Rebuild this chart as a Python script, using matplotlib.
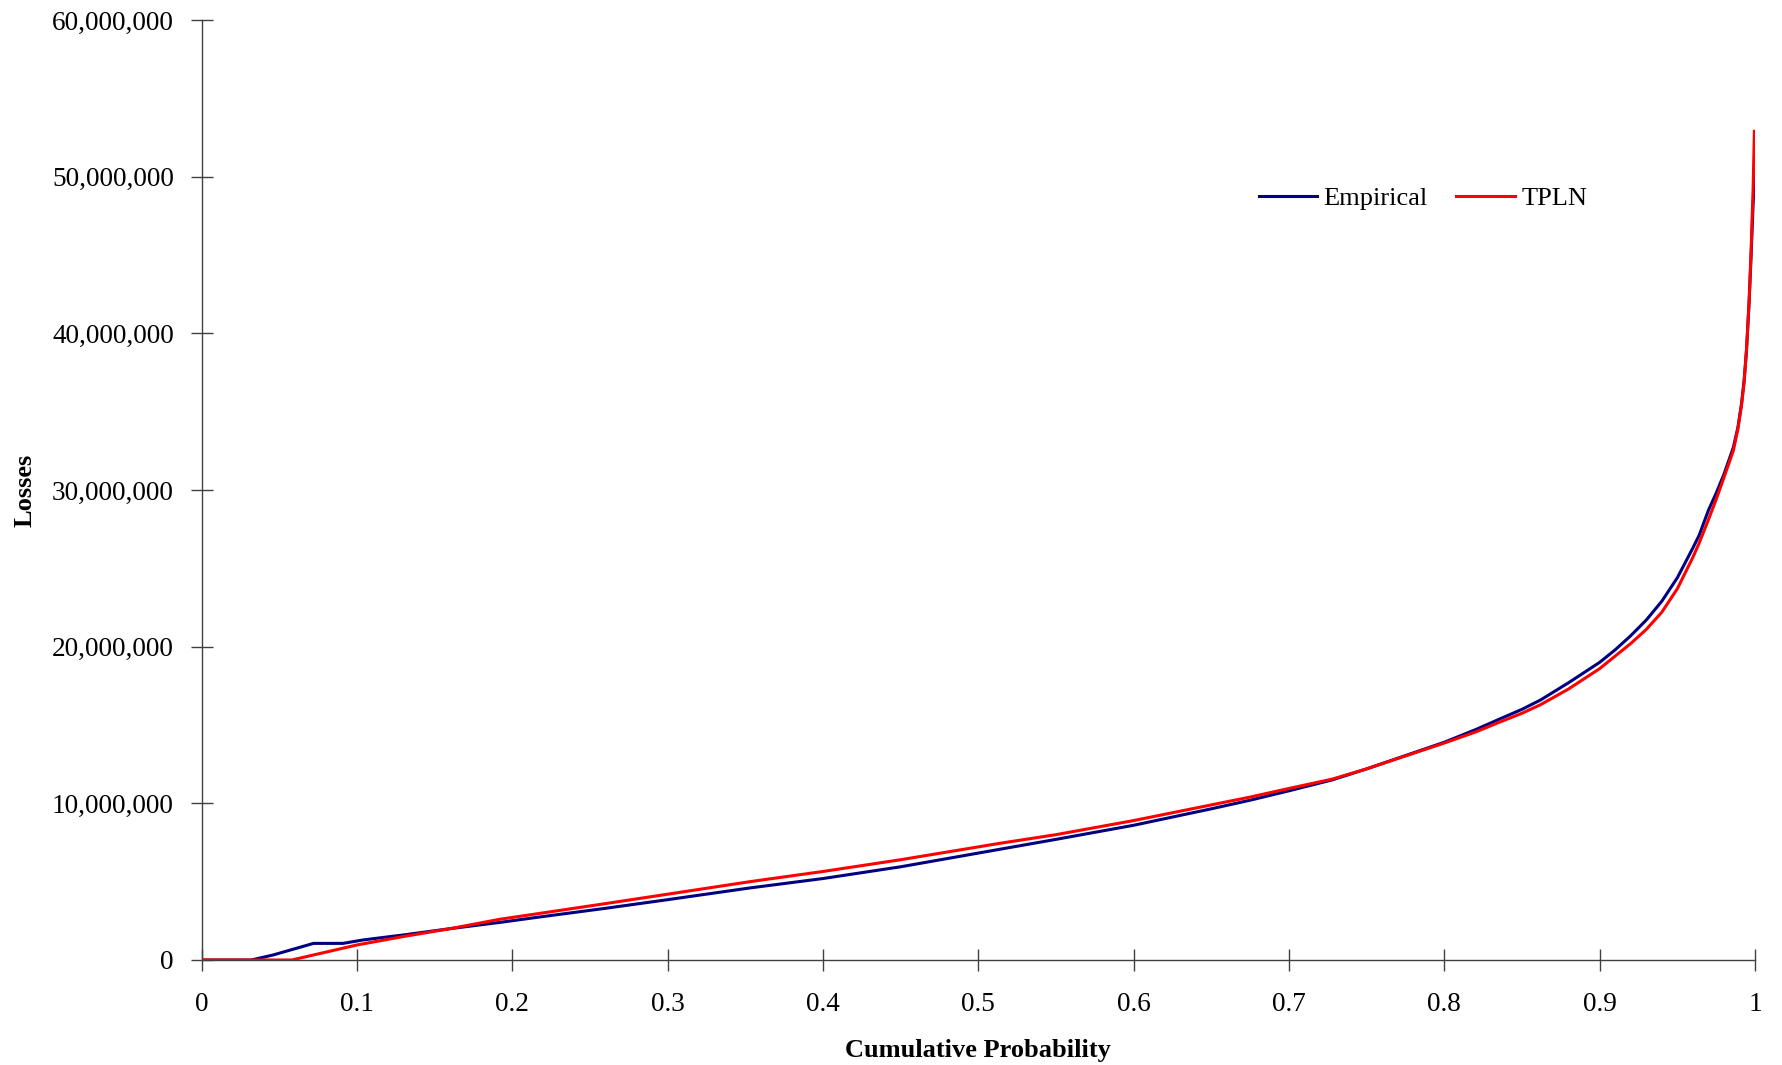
import matplotlib
matplotlib.use("Agg")
import matplotlib.pyplot as plt
from matplotlib.ticker import FuncFormatter, MultipleLocator

# Cumulative probability / losses (millions)
emp_p = [0, 0.032, 0.046, 0.072, 0.091, 0.104, 0.13, 0.16, 0.192, 0.218, 0.26, 0.3,
         0.353, 0.4, 0.45, 0.514, 0.55, 0.6, 0.65, 0.675, 0.7, 0.728, 0.75, 0.8,
         0.82, 0.836, 0.85, 0.862, 0.88, 0.9, 0.91, 0.92, 0.93, 0.94, 0.95, 0.96,
         0.964, 0.97, 0.975, 0.98, 0.986, 0.989, 0.9913, 0.993, 0.9945, 0.9962,
         0.9975, 0.9988, 1.0]
emp_loss_m = [0, 0, 0.32, 1.06, 1.06, 1.28, 1.6, 2.0, 2.4, 2.75, 3.3, 3.85,
              4.6, 5.2, 5.95, 7.07, 7.7, 8.6, 9.65, 10.2, 10.8, 11.5, 12.2, 13.9,
              14.7, 15.4, 16.0, 16.6, 17.7, 19.0, 19.8, 20.7, 21.7, 22.9, 24.4, 26.3,
              27.1, 28.7, 29.8, 31.0, 32.7, 34.0, 35.5, 37.0, 38.9, 42.0,
              45.0, 48.3, 50.5]

tpln_p = [0, 0.058, 0.1, 0.13, 0.16, 0.192, 0.218, 0.26, 0.3, 0.353, 0.4, 0.45,
          0.514, 0.55, 0.6, 0.65, 0.675, 0.7, 0.728, 0.75, 0.8, 0.82, 0.836, 0.85,
          0.862, 0.88, 0.9, 0.91, 0.92, 0.93, 0.94, 0.95, 0.96, 0.964, 0.97, 0.975,
          0.98, 0.986, 0.989, 0.9913, 0.993, 0.9945, 0.9962, 0.9975, 0.9988, 0.9996]
tpln_loss_m = [0, 0, 0.96, 1.5, 2.0, 2.6, 2.98, 3.6, 4.2, 5.0, 5.65, 6.4,
               7.45, 8.0, 8.9, 9.9, 10.4, 10.95, 11.55, 12.2, 13.85, 14.55, 15.2, 15.75,
               16.3, 17.3, 18.6, 19.4, 20.2, 21.1, 22.2, 23.7, 25.7, 26.6, 28.1, 29.4,
               30.8, 32.5, 33.9, 35.4, 36.9, 38.9, 42.0, 45.3, 49.3, 52.9]

x_ticks = [0, 0.1, 0.2, 0.3, 0.4, 0.5, 0.6, 0.7, 0.8, 0.9, 1.0]
x_tick_labels = ["0", "0.1", "0.2", "0.3", "0.4", "0.5", "0.6", "0.7", "0.8", "0.9", "1"]

plt.rcParams['font.family'] = ['Liberation Serif', 'DejaVu Serif']

fig = plt.figure(figsize=(17.83, 10.65), dpi=100)
ax = fig.add_axes([0.1131, 0.0986, 0.8712, 0.8826])

ax.plot(emp_p, [v * 1e6 for v in emp_loss_m], color="#000080", lw=2.2,
        label="Empirical", zorder=3)
ax.plot(tpln_p, [v * 1e6 for v in tpln_loss_m], color="#FF0000", lw=2.2,
        label="TPLN", zorder=4)

ax.set_xlim(0, 1)
ax.set_ylim(0, 60e6)
ax.set_xticks(x_ticks)
ax.set_xticklabels(x_tick_labels)
ax.yaxis.set_major_locator(MultipleLocator(10e6))
ax.yaxis.set_major_formatter(FuncFormatter(lambda v, pos: f"{int(round(v)):,}"))

for s in ["top", "right"]:
    ax.spines[s].set_visible(False)
for s in ["left", "bottom"]:
    ax.spines[s].set_color("#404040")
    ax.spines[s].set_linewidth(1.0)

ax.tick_params(axis="both", direction="inout", length=16, width=1.0,
               color="#404040", labelsize=19.6, labelcolor="black")
ax.tick_params(axis="y", pad=12)
ax.tick_params(axis="x", pad=15)

ax.set_xlabel("Cumulative Probability", fontsize=19, fontweight="bold", labelpad=16)
ax.set_ylabel("Losses", fontsize=19, fontweight="bold")
ax.yaxis.set_label_coords(-0.1065, 0.5)

leg = fig.legend(loc="center", bbox_to_anchor=(0.798, 0.814), ncol=2, frameon=False,
                 fontsize=19, handlelength=2.2, handletextpad=0.25,
                 columnspacing=1.1)

fig.savefig("out.png", dpi=100)
